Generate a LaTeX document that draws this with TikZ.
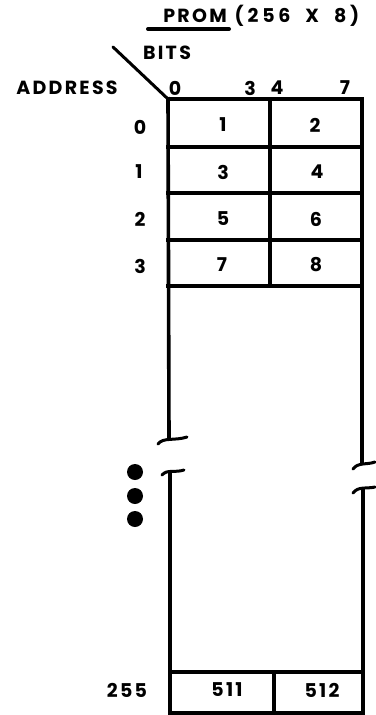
\documentclass[tikz,border=0pt]{standalone}
\usepackage{fontspec}
\setmainfont{Poppins}[LetterSpace=12]
\begin{document}
\begin{tikzpicture}[x=1pt,y=-1pt,
  grid/.style={line width=3.6pt,line cap=rect},
  lbl/.style={font=\fontsize{19}{21}\selectfont\bfseries,inner sep=0pt,anchor=center},
  num/.style={font=\fontsize{19}{21}\selectfont\bfseries,inner sep=0pt,anchor=center},
  brk/.style={line width=3pt,line cap=round}]
\useasboundingbox (0,0) rectangle (375,715);
% title
\node[lbl] (prom) at (195,16) {PROM};
\node[num] (size) at (297,16) {\addfontfeatures{LetterSpace=20}(256\hspace{15pt}X\hspace{15pt}8)};
\draw[line width=4pt,line cap=round] (148,29) -- (229,29);
\node[lbl] (bits) at (167,53) {BITS};
\node[lbl] (addr) at (67,88) {ADDRESS};
\coordinate (corner) at (168,99);
\coordinate (diag) at (113,47);
\draw[line width=3pt,line cap=round] (diag) -- (corner);
% column labels
\node[num] (c0) at (175,88) {0};
\node[num] (c3) at (250,88) {3};
\node[num] (c4) at (277,88) {4};
\node[num] (c7) at (345,88) {7};
% grid top rows
\draw[grid] (168,99) -- (362,99);
\draw[grid] (168,147) -- (362,147);
\draw[grid] (168,193) -- (362,193);
\draw[grid] (168,240) -- (362,240);
\draw[grid] (168,286) -- (362,286);
\draw[grid] (270,99) -- (270,286);
% verticals with breaks
\draw[grid,line cap=butt] (168,97) -- (169,438);
\draw[grid,line cap=butt] (170,472) -- (170,715);
\draw[grid,line cap=butt] (362,97) -- (362,465);
\draw[grid,line cap=butt] (363,489) -- (363,715);
\draw[brk] (158,444) .. controls (163,437) and (175,441) .. (187,437);
\draw[brk] (162,475) .. controls (167,469) and (175,473) .. (184,470);
\draw[brk] (353,469) .. controls (358,462) and (367,465) .. (375,462);
\draw[brk] (353,493) .. controls (358,486) and (367,489) .. (375,487);
% bottom row
\draw[grid] (170,672) -- (363,672);
\draw[grid] (170,713) -- (363,713);
\draw[grid] (274,672) -- (274,713);
% dots
\fill (135,472) circle (8);
\fill (135,496) circle (8);
\fill (135,519) circle (8);
% row labels
\node[num] (r0) at (140,127) {0};
\node[num] (r1) at (139,172) {1};
\node[num] (r2) at (140,219) {2};
\node[num] (r3) at (140,266) {3};
\node[num] (r255) at (127,690) {255};
% cells
\node[num] (b1) at (223,125) {1};
\node[num] (b2) at (315,125) {2};
\node[num] (b3) at (223,172) {3};
\node[num] (b4) at (317,172) {4};
\node[num] (b5) at (223,219) {5};
\node[num] (b6) at (316,219) {6};
\node[num] (b7) at (222,265) {7};
\node[num] (b8) at (316,265) {8};
\node[num] (b511) at (227,690) {511};
\node[num] (b512) at (322,690) {512};
\end{tikzpicture}
\end{document}
